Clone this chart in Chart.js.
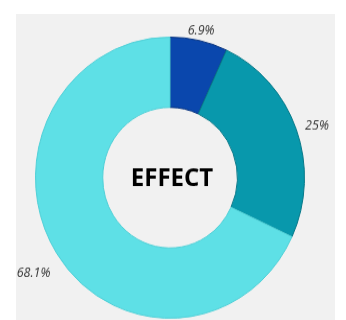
<!DOCTYPE html>
<html>
<head>
<meta charset="utf-8">
<script src="https://cdn.jsdelivr.net/npm/chart.js@4"></script>
<style>
  html, body { margin: 0; padding: 0; background: #ffffff; }
  #page { position: relative; width: 346px; height: 320px; overflow: hidden; }
  #panel { position: absolute; left: 16px; top: 14px; width: 319px; height: 306px; background: #f1f1f1; }
  #wrap { position: absolute; left: 0; top: 0; width: 346px; height: 306px; transform: scaleY(1.045); transform-origin: 0 0; }
</style>
</head>
<body>
<div id="page">
  <div id="panel"></div>
  <div id="wrap"><canvas id="chart"></canvas></div>
</div>
<script>
const labels = ['A', 'B', 'C'];
const values = [6.9, 25, 68.1];
const valueLabels = ['6.9%', '25%', '68.1%'];
const colors = ['#0a47ad', '#0898ac', '#5ee0e6'];
const edgeColors = ['#06327e', '#067888', '#4fcfd6'];
const centerText = 'EFFECT';

// outside percentage labels + centre title
const donutText = {
    id: 'donutText',
    afterDatasetsDraw(chart) {
        const ctx = chart.ctx;
        const meta = chart.getDatasetMeta(0);
        ctx.save();
        ctx.font = 'italic 12.5px "Open Sans"';
        ctx.fillStyle = '#333333';
        ctx.textAlign = 'center';
        ctx.textBaseline = 'middle';
        meta.data.forEach(function(arc, i) {
            const mid = (arc.startAngle + arc.endAngle) / 2;
            const w = ctx.measureText(valueLabels[i]).width;
            const r = arc.outerRadius + 12 + (w / 2) * Math.abs(Math.cos(mid));
            ctx.fillText(valueLabels[i], arc.x + Math.cos(mid) * r - 1, arc.y + Math.sin(mid) * r + 5);
        });
        const c = meta.data[0];
        ctx.font = 'bold 24px "Open Sans"';
        ctx.fillStyle = '#000000';
        ctx.fillText(centerText, c.x + 2, c.y + 1);
        ctx.restore();
    }
};

const ctx = document.getElementById('chart').getContext('2d');
const donut = new Chart(ctx, {
    type: 'doughnut',
    data: {
        labels: labels,
        datasets: [{
            data: values,
            backgroundColor: colors,
            borderColor: edgeColors,
            borderWidth: 1
        }]
    },
    options: {
        responsive: true,
        maintainAspectRatio: false,
        animation: false,
        cutout: '50%',
        layout: {
            padding: { left: 35, right: 41, top: 35, bottom: 1 }
        },
        plugins: {
            legend: { display: false },
            tooltip: { enabled: false }
        }
    },
    plugins: [donutText]
});
</script>
</body>
</html>
